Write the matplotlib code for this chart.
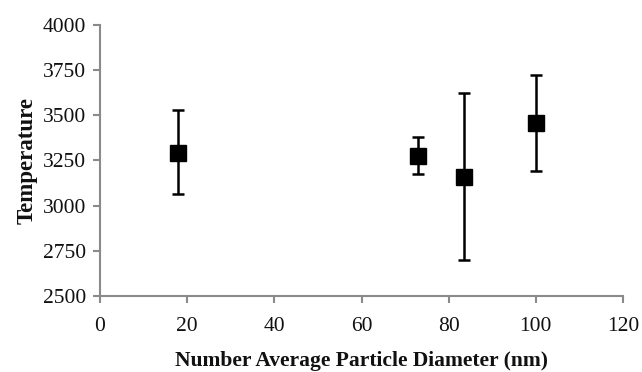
import matplotlib
matplotlib.use('Agg')
import matplotlib.pyplot as plt

# dados
diameter = [18, 73, 83.5, 100]
temperature = [3293, 3277, 3161, 3459]
err_low = [228, 102, 461, 267]
err_high = [237, 102, 464, 263]

plt.rcParams['font.family'] = ['Liberation Serif', 'DejaVu Serif']

fig = plt.figure(figsize=(6.42, 3.72), dpi=100)
ax = fig.add_axes([0.1558, 0.2043, 0.8146, 0.7285])

ax.errorbar(diameter, temperature, yerr=[err_low, err_high], fmt='s', color='black',
            markersize=11.5, ecolor='black', elinewidth=1.8, capsize=4.5, capthick=1.8)

ax.set_xlim(0, 120)
ax.set_ylim(2500, 4000)
ax.set_xticks(range(0, 121, 20))
ax.set_yticks(range(2500, 4001, 250))

for s in ['top', 'right']:
    ax.spines[s].set_visible(False)
for s in ['left', 'bottom']:
    ax.spines[s].set_color('#8a8a8a')
    ax.spines[s].set_linewidth(1.5)
ax.tick_params(colors='#8a8a8a', labelcolor='#111111', labelsize=15.5, length=5, width=1.5)
ax.tick_params(axis='x', pad=10)
ax.tick_params(axis='y', pad=5)

ax.set_xlabel('Number Average Particle Diameter (nm)', fontsize=15.5, fontweight='bold', color='#111111', labelpad=11)
ax.set_ylabel('Temperature', fontsize=16.5, fontweight='bold', color='#111111', labelpad=4)

fig.savefig('out.png', dpi=100)
